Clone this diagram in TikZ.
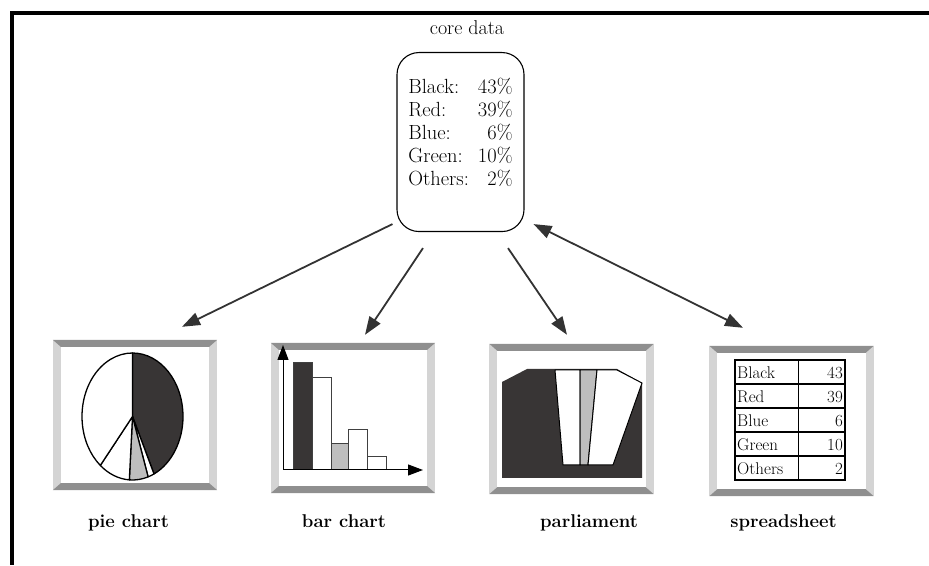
\documentclass[tikz,border=0pt]{standalone}
\usepackage{fontspec}
\usetikzlibrary{arrows.meta,positioning}
\definecolor{ink}{HTML}{333333}
\definecolor{dark}{HTML}{383535}
\definecolor{shade}{HTML}{BEBEBE}
\definecolor{rim}{HTML}{8F8F8F}
\definecolor{side}{HTML}{D4D4D4}

\begin{document}
\begin{tikzpicture}[x=1pt,y=1pt,databox/.style={draw,line width=1.1pt,rounded corners=22pt,inner sep=0pt,minimum width=127pt,text height=41pt,text depth=138pt,font=\fontsize{20.5}{23}\selectfont},panel/.style={minimum width=164pt,minimum height=150pt,inner sep=0pt},caption/.style={font=\bfseries\fontsize{18.5}{20}\selectfont,text height=13pt,text depth=4pt},cell/.style={font=\fontsize{17}{18}\selectfont,inner sep=0pt},slice/.style={draw,line width=1.3pt,line join=round},arrow/.style={-{Triangle[length=18pt,width=13pt]},line width=1.8pt,ink},twoway/.style={arrow,{Triangle[length=18pt,width=13pt]}-{Triangle[length=18pt,width=13pt]}},axis/.style={-{Triangle[length=15pt,width=11pt]},line width=1pt}]
 \useasboundingbox (0,0) rectangle (929,565);
 \draw[line width=4pt] (10,551.5) -- (929,551.5);
 \draw[line width=4pt] (12,553.5) -- (12,0);
 \node[font=\fontsize{20}{22}\selectfont] (title) at (467,537) {core data};
 \node[databox,anchor=north] (core) at (460.5,513) {\begin{tabular}[t]{@{}l@{\hspace{9pt}}r@{}}Black: & 43\%\\ Red: & 39\%\\ Blue: & 6\%\\ Green: & 10\%\\ Others: & 2\%\end{tabular}};
 \node[panel] (pie) at (135,150) {};
 \node[panel] (bar) at (353,147) {};
 \node[panel] (parl) at (571.5,146) {};
 \node[panel] (sheet) at (791.5,144) {};
 % picture frames
 \foreach \p in {pie,bar,parl,sheet}{
  \fill[side] (\p.north west) rectangle (\p.south east);
  \fill[rim] (\p.north west) -- (\p.north east) -- ([shift={(-8,-7)}]\p.north east) -- ([shift={(8,-7)}]\p.north west) -- cycle;
  \fill[rim] (\p.south west) -- (\p.south east) -- ([shift={(-8,7)}]\p.south east) -- ([shift={(8,7)}]\p.south west) -- cycle;
  \fill[white] ([shift={(8,-7)}]\p.north west) rectangle ([shift={(-8,7)}]\p.south east);
 }
 % pie
 \foreach \a/\b/\c in {90/-64.8/dark,-64.8/-72/white,-72/-93.6/shade,-93.6/-129.6/white,-129.6/-270/white}
  \filldraw[slice,fill=\c] (132.5,148.5) -- ({132.5+50.5*cos(\a)},{148.5+63.5*sin(\a)}) arc[start angle=\a,end angle=\b,x radius=50.5pt,y radius=63.5pt] -- cycle;
 % bars
 \foreach \l/\r/\t/\c in {293/312/202/dark,312/331/187/white,331/348/121/shade,348/367/135/white,367/386/108/white}
  \filldraw[fill=\c,draw=black!75,line width=1pt] (\l,95) rectangle (\r,\t);
 \draw[axis] (283,95) -- (283,220);
 \draw[axis] (283,95) -- (423,95);
 % parliament
 \fill[dark] (502,183) -- (527,196) -- (617,196) -- (642,182) -- (642,87) -- (502,87) -- cycle;
 \filldraw[slice,line width=1pt,fill=white] (555,195) -- (580,195) -- (580,100) -- (563,100) -- cycle;
 \filldraw[slice,line width=1pt,fill=shade] (580,195) -- (597,195) -- (588,100) -- (580,100) -- cycle;
 \filldraw[slice,line width=1pt,fill=white] (597,195) -- (617,195) -- (642,182) -- (613,100) -- (588,100) -- cycle;
 % spreadsheet
 \draw[line width=1.2pt] (735,85) rectangle (845,205);
 \draw[line width=1pt] (798,85) -- (798,205);
 \foreach \i in {1,...,4}
  \draw[line width=1.2pt] (735,205-24*\i) -- (845,205-24*\i);
 \foreach \nm/\v [count=\i] in {Black/43,Red/39,Blue/6,Green/10,Others/2}{
  \node[cell,anchor=base west] (name\i) at (737,210-24*\i) {\nm};
  \node[cell,anchor=base east] (val\i) at (843,210-24*\i) {\v};
 }
 \node[caption] (pielbl) at (128.5,42) {pie chart};
 \node[caption] (barlbl) at (344,42) {bar chart};
 \node[caption] (parllbl) at (589,42) {parliament};
 \node[caption] (sheetlbl) at (783.5,42) {spreadsheet};
 \draw[arrow] ([shift={(-4,8)}]core.south west) -- ([shift={(47,13)}]pie.north);
 \draw[arrow] ([shift={(-37.5,-16)}]core.south) -- ([shift={(12,8)}]bar.north);
 \draw[arrow] ([shift={(47.5,-16)}]core.south) -- ([shift={(-4.5,9)}]parl.north);
 \draw[twoway] ([shift={(9,8)}]core.south east) -- ([shift={(-48.5,18)}]sheet.north);
\end{tikzpicture}
\end{document}
